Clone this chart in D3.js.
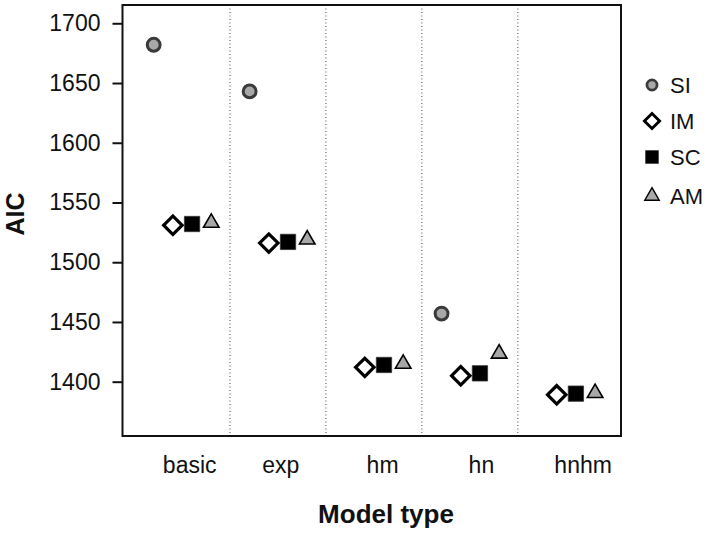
<!DOCTYPE html>
<html>
<head>
<meta charset="utf-8">
<script src="https://cdn.jsdelivr.net/npm/d3@7"></script>
<style>
  html, body { margin: 0; padding: 0; background: #fff; }
  svg { display: block; font-family: "Liberation Sans", Arial, sans-serif; }
</style>
</head>
<body>
<svg id="chart" width="709" height="534"></svg>
<script>
// ---- data ----
const categories = ["basic", "exp", "hm", "hn", "hnhm"];
const seriesNames = ["SI", "IM", "SC", "AM"];
const valuesSI = [1682, 1643, null, 1457, null];
const valuesIM = [1531, 1516, 1412, 1405, 1389];
const valuesSC = [1532, 1517, 1414, 1407, 1390];
const valuesAM = [1533, 1519, 1415, 1423.5, 1390.5];
const yTicks = [1400, 1450, 1500, 1550, 1600, 1650, 1700];
const xLabelAt = [-0.04, 0.91, 1.97, 3.0, 4.06];

const seriesValues = { SI: valuesSI, IM: valuesIM, SC: valuesSC, AM: valuesAM };

// ---- layout ----
const svg = d3.select("#chart");
const L = 122.5, R = 621, T = 5, B = 436;

const x = d3.scaleLinear().domain([-0.735, 4.46]).range([L, R]);
const dodge = d3.scalePoint().domain(seriesNames).range([-0.41, 0.19]);
const y = d3.scaleLinear().domain([1354.55, 1715.3]).range([B, T]);

const ink = "#111";
const gray = "#a8a8a8";

// separators
const seps = d3.range(categories.length - 1).map(i => i + 0.385);
svg.append("g").selectAll("line").data(seps).join("line")
  .attr("x1", d => x(d)).attr("x2", d => x(d))
  .attr("y1", T).attr("y2", B)
  .attr("stroke", "#444").attr("stroke-width", 1)
  .attr("stroke-dasharray", "1,2.5");

// y axis
const yAxis = svg.append("g").attr("transform", `translate(${L},0)`)
  .call(d3.axisLeft(y).tickValues(yTicks).tickSize(10).tickPadding(12).tickFormat(d3.format("d")));
yAxis.select(".domain").remove();
yAxis.selectAll("line").attr("stroke", ink).attr("stroke-width", 2);
yAxis.selectAll("text").attr("font-size", 23).attr("fill", ink)
  .attr("font-family", "Liberation Sans, Arial, sans-serif");

// x axis labels
const xAxis = svg.append("g").attr("transform", `translate(0,${B})`)
  .call(d3.axisBottom(x).tickValues(xLabelAt).tickSize(0).tickPadding(21)
    .tickFormat((d, i) => categories[i]));
xAxis.select(".domain").remove();
xAxis.selectAll("text").attr("font-size", 23).attr("fill", ink)
  .attr("font-family", "Liberation Sans, Arial, sans-serif");

// frame
svg.append("rect").attr("x", L).attr("y", T).attr("width", R - L).attr("height", B - T)
  .attr("fill", "none").attr("stroke", ink).attr("stroke-width", 2);

// symbol styles
const symStyle = {
  SI: { type: d3.symbolCircle, size: 130, fill: gray, stroke: "#3a3a3a", sw: 3, rot: 0, lsize: 80 },
  IM: { type: d3.symbolSquare, size: 170, fill: "#fff", stroke: "#000", sw: 3.2, rot: 45, lsize: 115 },
  SC: { type: d3.symbolSquare, size: 235, fill: "#000", stroke: "#333", sw: 0.8, rot: 0, lsize: 165 },
  AM: { type: d3.symbolTriangle, size: 105, fill: gray, stroke: "#000", sw: 1.6, rot: 0, lsize: 90 }
};

const points = [];
seriesNames.forEach(s => {
  seriesValues[s].forEach((v, i) => {
    if (v != null) points.push({ s, i, v });
  });
});

svg.append("g").selectAll("path").data(points).join("path")
  .attr("d", d => d3.symbol().type(symStyle[d.s].type).size(symStyle[d.s].size)())
  .attr("transform", d => `translate(${x(d.i + dodge(d.s))},${y(d.v)}) rotate(${symStyle[d.s].rot})`)
  .attr("fill", d => symStyle[d.s].fill)
  .attr("stroke", d => symStyle[d.s].stroke)
  .attr("stroke-width", d => symStyle[d.s].sw)
  .attr("stroke-linejoin", "miter");

// legend
const leg = svg.append("g").attr("transform", "translate(652,85)");
const rows = leg.selectAll("g").data(seriesNames).join("g")
  .attr("transform", (d, i) => `translate(0,${[0, 36, 72, 111][i]})`);
rows.append("path")
  .attr("d", d => d3.symbol().type(symStyle[d].type).size(symStyle[d].lsize)())
  .attr("transform", d => `rotate(${symStyle[d].rot})`)
  .attr("fill", d => symStyle[d].fill)
  .attr("stroke", d => symStyle[d].stroke)
  .attr("stroke-width", d => symStyle[d].sw * 0.9);
rows.append("text").attr("x", 18).attr("dy", "0.35em")
  .attr("font-size", 22).attr("fill", ink).text(d => d);

// axis titles
svg.append("text").attr("x", 386).attr("y", 523).attr("text-anchor", "middle")
  .attr("font-size", 26).attr("font-weight", "bold").attr("fill", ink).text("Model type");
svg.append("text").attr("transform", "translate(24,214) rotate(-90)").attr("text-anchor", "middle")
  .attr("font-size", 25).attr("font-weight", "bold").attr("fill", ink).text("AIC");
</script>
</body>
</html>
